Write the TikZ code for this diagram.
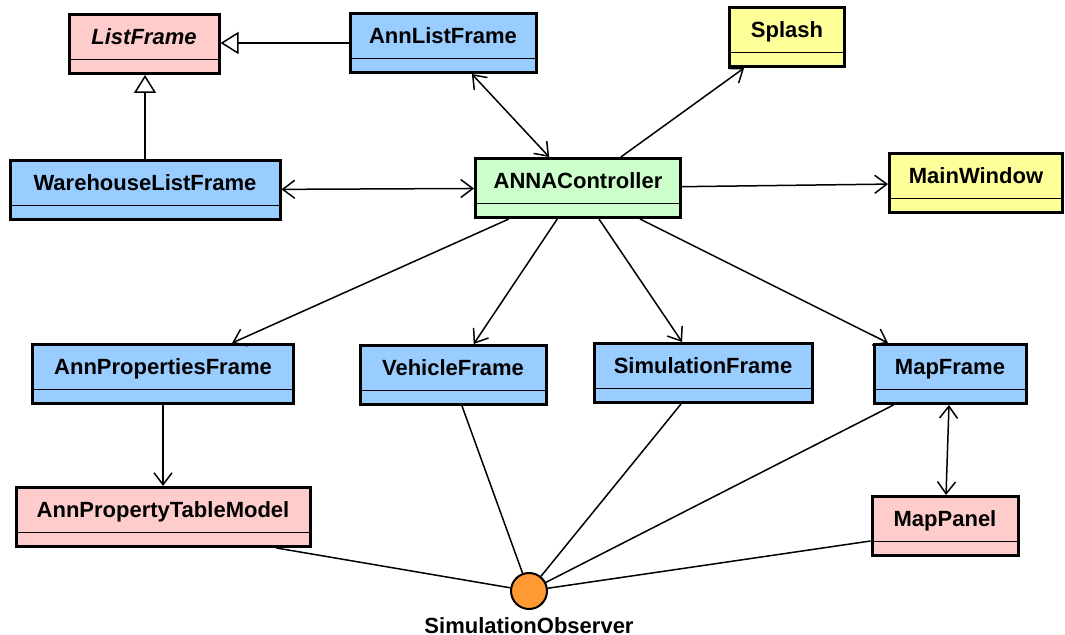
\documentclass[tikz,border=0pt]{standalone}
\usepackage{fontspec}
\setmainfont{Liberation Sans}
\usepackage{tikz}
\usetikzlibrary{arrows.meta,calc,positioning}

\definecolor{clsblue}{RGB}{153,204,255}
\definecolor{clspink}{RGB}{255,204,204}
\definecolor{clsyellow}{RGB}{255,255,153}
\definecolor{clsgreen}{RGB}{204,255,204}
\definecolor{ifcorange}{RGB}{255,153,51}

\tikzset{
  cls/.style={draw,line width=1.5pt,inner xsep=0pt,inner ysep=0pt,
    text height=15.2pt,text depth=14.3pt,
    font=\fontsize{11}{13}\selectfont\bfseries,
    path picture={\draw [line width=0.6pt]
      ([yshift=7pt]path picture bounding box.south west) --
      ([yshift=7pt]path picture bounding box.south east) ;}},
  ifc/.style={circle,draw,line width=1pt,fill=ifcorange,minimum size=18pt,inner sep=0pt},
  gen/.style={line width=0.75pt,-{Triangle[length=9pt,width=11pt,fill=white]}},
  nav/.style={line width=0.75pt,-{Straight Barb[length=6pt,width=9pt]}},
  navboth/.style={line width=0.75pt,{Straight Barb[length=6pt,width=9pt]}-{Straight Barb[length=6pt,width=9pt]}},
  assoc/.style={line width=0.75pt}
}

\begin{document}
\begin{tikzpicture}[x=0.5pt,y=-0.5pt]

  \useasboundingbox (0,0) rectangle (1065,635) ;
%
  \node [cls,fill=clspink,minimum width=75pt,font=\fontsize{11}{13}\selectfont\bfseries\itshape]
        (lf)   at (144,44)  {ListFrame} ;
  \node [cls,fill=clsblue,minimum width=93pt]    (alf)  at (443,43)  {AnnListFrame} ;
  \node [cls,fill=clsyellow,minimum width=57.5pt] (spl) at (787,37)  {Splash} ;
%
  \node [cls,fill=clsblue,minimum width=135pt]   (wlf)  at (145,190) {WarehouseListFrame} ;
  \node [cls,fill=clsgreen,minimum width=102.5pt] (ctrl) at (578,188) {ANNAController} ;
  \node [cls,fill=clsyellow,minimum width=86.5pt] (mw)  at (976,183) {MainWindow} ;
%
  \node [cls,fill=clsblue,minimum width=130.5pt] (apf)  at (163,374) {AnnPropertiesFrame} ;
  \node [cls,fill=clsblue,minimum width=93pt]    (vf)   at (453,375) {VehicleFrame} ;
  \node [cls,fill=clsblue,minimum width=109pt]   (sf)   at (703,373) {SimulationFrame} ;
  \node [cls,fill=clsblue,minimum width=76pt]    (mf)   at (950,374) {MapFrame} ;
%
  \node [cls,fill=clspink,minimum width=147pt]   (aptm) at (163,517) {AnnPropertyTableModel} ;
  \node [cls,fill=clspink,minimum width=73pt]    (mp)   at (945,526) {MapPanel} ;
%
  \node [ifc] (obs) at (529,591) {} ;
  \node [below=0pt of obs,font=\fontsize{11}{13}\selectfont\bfseries] (obslbl) {SimulationObserver} ;
%
  \draw [gen] (alf.west) -- (alf.west -| lf.east) ;
  \draw [gen] (wlf.north) -- (wlf.north |- lf.south) ;
%
  \draw [navboth] (alf) -- (ctrl) ;
  \draw [navboth] (wlf) -- (ctrl) ;
  \draw [nav] (ctrl) -- (spl) ;
  \draw [nav] (ctrl) -- (mw) ;
%
  \draw [nav] (ctrl) -- (apf) ;
  \draw [nav] (ctrl) -- (vf) ;
  \draw [nav] (ctrl) -- (sf) ;
  \draw [nav] (ctrl) -- (mf) ;
%
  \draw [nav] (apf) -- (aptm) ;
  \draw [navboth] (mf) -- (mp) ;
%
  \draw [assoc] (obs) -- ($(aptm.south east)+(-35,0)$) ;
  \draw [assoc] (obs) -- ($(vf.south)+(9,0)$) ;
  \draw [assoc] (obs) -- ($(sf.south)+(-22,0)$) ;
  \draw [assoc] (obs) -- ($(mf.south west)+(21,0)$) ;
  \draw [assoc] (obs) -- ($(mp.south west)+(0,-16)$) ;

\end{tikzpicture}
\end{document}
